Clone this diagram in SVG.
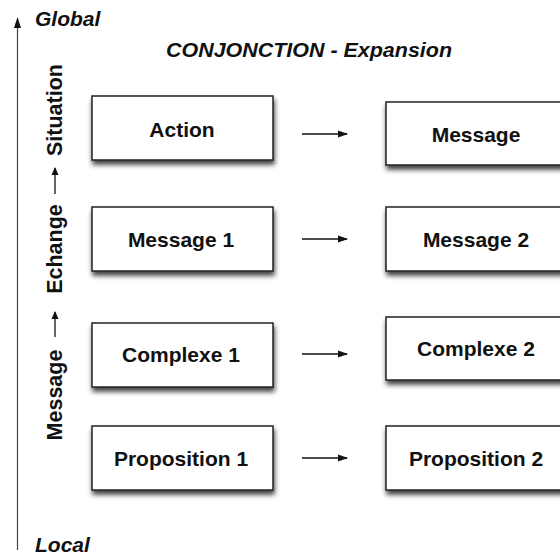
<svg xmlns="http://www.w3.org/2000/svg" width="560" height="560" viewBox="0 0 560 560">
<style>
.box{fill:#fff;stroke:#222;stroke-width:1.5;filter:url(#sh)}
.lbl{font-family:"Liberation Sans",Arial,sans-serif;font-weight:bold;font-size:21px;fill:#111;text-anchor:middle}
.it{font-family:"Liberation Sans",Arial,sans-serif;font-weight:bold;font-style:italic;font-size:21px;fill:#111}
.vt{font-family:"Liberation Sans",Arial,sans-serif;font-weight:bold;font-size:21.5px;fill:#111;text-anchor:middle}
.con{stroke:#111;stroke-width:1.3;fill:none;marker-end:url(#ah)}
</style>
<defs>
<filter id="sh" x="-10%" y="-20%" width="130%" height="160%">
<feDropShadow dx="1" dy="4" stdDeviation="2.5" flood-color="#000" flood-opacity="0.75"/>
</filter>
<marker id="ah" markerWidth="10" markerHeight="8" refX="9" refY="4" orient="auto" markerUnits="userSpaceOnUse">
<polygon points="0,0.5 10,4 0,7.5" fill="#111"/>
</marker>
<marker id="ahs" markerWidth="8" markerHeight="10" refX="7" refY="4" orient="auto" markerUnits="userSpaceOnUse">
<polygon points="0,0.5 8,4 0,7.5" fill="#111"/>
</marker>
</defs>
<rect width="560" height="560" fill="#fff"/>
<g id="axis">
<line x1="17.5" y1="26" x2="17.5" y2="550" stroke="#444" stroke-width="1.2"/>
<polygon points="17.5,17 14,28 21,28" fill="#111"/>
<text class="it" x="35" y="26">Global</text>
<text class="it" x="35" y="552">Local</text>
</g>
<text id="title" class="it" x="166" y="57" textLength="286" lengthAdjust="spacingAndGlyphs">CONJONCTION - Expansion</text>
<g id="scale">
<text class="vt" transform="translate(62,110) rotate(-90)">Situation</text>
<text class="vt" transform="translate(62,249) rotate(-90)">Echange</text>
<text class="vt" transform="translate(62,395) rotate(-90)">Message</text>
<line x1="55" y1="194" x2="55" y2="168" stroke="#111" stroke-width="1.3" marker-end="url(#ahs)"/>
<line x1="55" y1="337" x2="55" y2="312" stroke="#111" stroke-width="1.3" marker-end="url(#ahs)"/>
</g>
<g id="action"><rect class="box" x="92" y="96" width="181" height="64"/><text class="lbl" x="182" y="137">Action</text></g>
<g id="message"><rect class="box" x="386" y="102" width="181" height="63"/><text class="lbl" x="476" y="142">Message</text></g>
<g id="message1"><rect class="box" x="92" y="207" width="181" height="64"/><text class="lbl" x="181" y="247">Message 1</text></g>
<g id="message2"><rect class="box" x="386" y="207" width="181" height="64"/><text class="lbl" x="476" y="247">Message 2</text></g>
<g id="complexe1"><rect class="box" x="92" y="323" width="181" height="64"/><text class="lbl" x="181" y="362">Complexe 1</text></g>
<g id="complexe2"><rect class="box" x="386" y="317" width="181" height="63"/><text class="lbl" x="476" y="356">Complexe 2</text></g>
<g id="proposition1"><rect class="box" x="92" y="426" width="181" height="64"/><text class="lbl" x="181" y="466">Proposition 1</text></g>
<g id="proposition2"><rect class="box" x="386" y="426" width="181" height="64"/><text class="lbl" x="476" y="466">Proposition 2</text></g>
<g id="connectors">
<line class="con" x1="302" y1="134" x2="347" y2="134"/>
<line class="con" x1="302" y1="239" x2="347" y2="239"/>
<line class="con" x1="302" y1="354" x2="347" y2="354"/>
<line class="con" x1="302" y1="458" x2="347" y2="458"/>
</g>
</svg>
